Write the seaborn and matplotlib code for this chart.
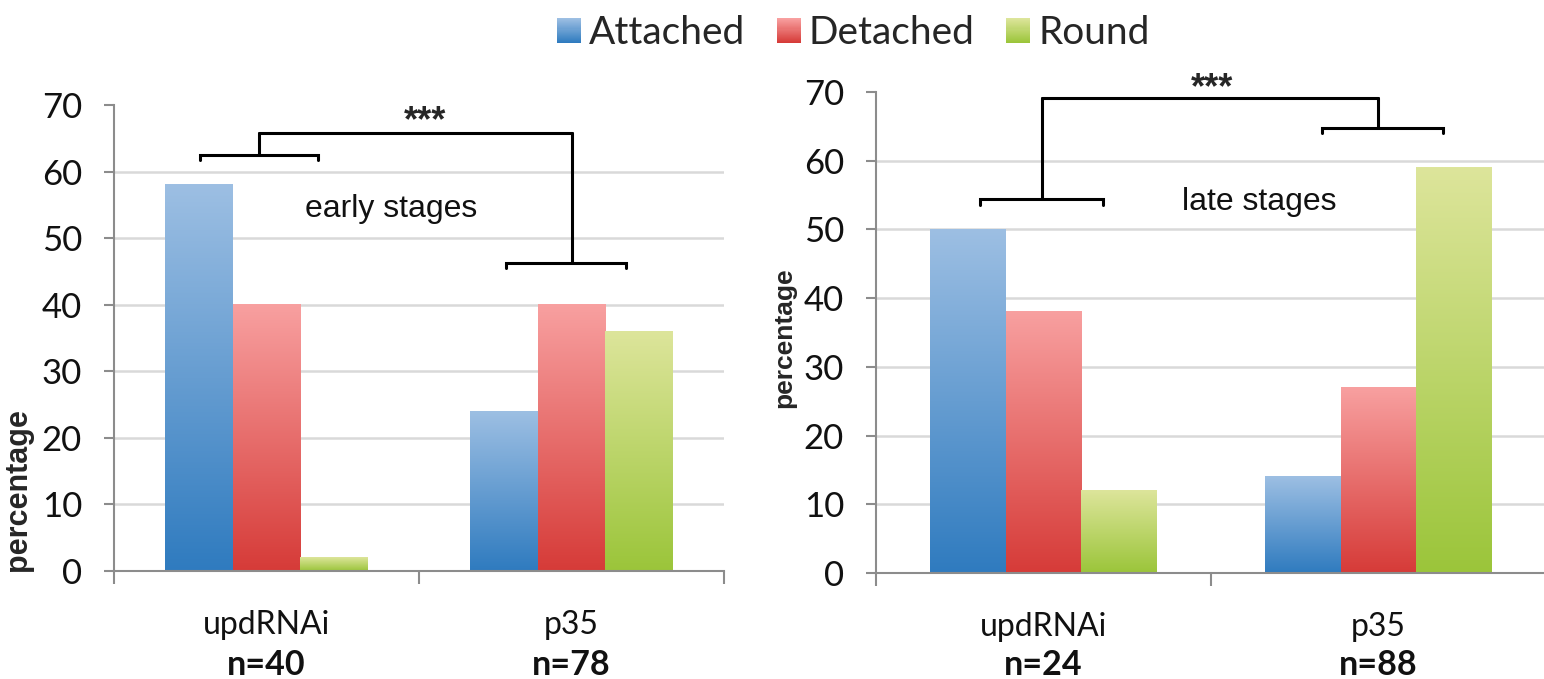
import matplotlib
matplotlib.use("Agg")
import matplotlib.pyplot as plt
import numpy as np
import pandas as pd
import seaborn as sns
from matplotlib.colors import LinearSegmentedColormap
from matplotlib.legend_handler import HandlerBase
from matplotlib.patches import Rectangle

GROUPS = ["updRNAi", "p35"]
SHAPES = ["Attached", "Detached", "Round"]

early_attached = [58, 24]
early_detached = [40, 40]
early_round = [2, 36]
early_n = [40, 78]

late_attached = [50, 14]
late_detached = [38, 27]
late_round = [12, 59]
late_n = [24, 88]

# bottom -> top colour of each gradient-filled bar
GRAD = {"Attached": ("#2f7bbf", "#9dbfe3"),
        "Detached": ("#d63b38", "#f8a0a0"),
        "Round": ("#9bc53a", "#dde59b")}
GREY = "#8c8c8c"
HELV = ["Liberation Sans", "DejaVu Sans"]

sns.set_theme(style="white")
plt.rcParams["font.family"] = ["Lato", "DejaVu Sans"]


def to_long(att, det, rnd):
    rows = [{"group": g, "shape": s, "pct": v}
            for s, vals in zip(SHAPES, (att, det, rnd))
            for g, v in zip(GROUPS, vals)]
    return pd.DataFrame(rows)


def gradient_bars(ax):
    ramp = np.linspace(0, 1, 256).reshape(-1, 1)
    for name, cont in zip(SHAPES, ax.containers):
        cmap = LinearSegmentedColormap.from_list(name, GRAD[name])
        for bar in cont:
            x, w, h = bar.get_x(), bar.get_width(), bar.get_height()
            ax.imshow(ramp, cmap=cmap, origin="lower", aspect="auto",
                      zorder=2, extent=[x, x + w, 0, h])
            bar.set_visible(False)


def bracket(ax, x0, x1, y, tick=0.8):
    ax.plot([x0, x0, x1, x1], [y - tick, y, y, y - tick], color="black",
            lw=2.2, clip_on=False, solid_joinstyle="miter", zorder=5)


def stem(ax, x, y0, y1):
    ax.plot([x, x], [y0, y1], color="black", lw=2.2, clip_on=False, zorder=5)


def panel(ax, df, ns, width, n_y):
    sns.barplot(data=df, x="group", y="pct", hue="shape", order=GROUPS,
                hue_order=SHAPES, width=width, saturation=1, errorbar=None,
                legend=False, ax=ax)
    gradient_bars(ax)
    ax.set_xlim(-0.5, 1.5); ax.set_ylim(0, 70)
    for v in range(10, 70, 10):
        ax.axhline(v, color="#d9d9d9", lw=1.8, zorder=1)
    for s in ("top", "right"):
        ax.spines[s].set_visible(False)
    for s in ("left", "bottom"):
        ax.spines[s].set_color(GREY); ax.spines[s].set_linewidth(1.5)
    ax.set_yticks(range(0, 80, 10))
    ax.tick_params(axis="y", left=True, length=7, width=1.5, color=GREY,
                   pad=16, labelsize=25, labelcolor="#111111")
    ax.set_xticks([0, 1]); ax.set_xticklabels(GROUPS)
    ax.set_xticks([-0.5, 0.5, 1.5], minor=True)
    ax.tick_params(axis="x", which="major", length=0, pad=28, labelsize=23,
                   labelcolor="#111111")
    ax.tick_params(axis="x", which="minor", bottom=True, length=9, width=1.5,
                   color=GREY)
    ax.set_xlabel("")
    for i, n in enumerate(ns):
        ax.text(i, n_y, f"n={n}", transform=ax.get_xaxis_transform(),
                ha="center", va="baseline", fontsize=24.5, fontweight="bold",
                color="#111111")


fig = plt.figure(figsize=(15.44, 6.79), dpi=100)
ax1 = fig.add_axes([0.0738, 0.1591, 0.3951, 0.6863])
ax2 = fig.add_axes([0.5674, 0.1561, 0.4339, 0.7084])

panel(ax1, to_long(early_attached, early_detached, early_round), early_n,
      0.666, -0.223)
panel(ax2, to_long(late_attached, late_detached, late_round), late_n,
      0.678, -0.212)

ax1.set_ylabel("percentage", fontsize=22, fontweight="bold", family=HELV)
ax1.yaxis.set_label_coords(-0.133, 0.174)
ax2.set_ylabel("percentage", fontsize=19, fontweight="bold", family=HELV)
ax2.yaxis.set_label_coords(-0.119, 0.49)

# significance brackets, early stages
bracket(ax1, -0.218, 0.169, 62.5)
stem(ax1, -0.025, 62.5, 65.8)
ax1.plot([-0.025, 1.002], [65.8, 65.8], color="black", lw=2.2,
         clip_on=False, zorder=5)
stem(ax1, 1.002, 46.3, 65.8)
bracket(ax1, 0.785, 1.179, 46.3)
ax1.text(0.52, 66.0, "***", ha="center", va="baseline", fontsize=26,
         fontweight="bold", family=HELV)
ax1.text(0.41, 53.1, "early stages", ha="center", va="baseline",
         fontsize=23, family=HELV, color="#111111")

# significance brackets, late stages
bracket(ax2, -0.19, 0.178, 54.4)
stem(ax2, -0.006, 54.4, 69.2)
ax2.plot([-0.006, 0.999], [69.2, 69.2], color="black", lw=2.2,
         clip_on=False, zorder=5)
stem(ax2, 0.999, 64.8, 69.2)
bracket(ax2, 0.831, 1.193, 64.8)
ax2.text(0.503, 69.1, "***", ha="center", va="baseline", fontsize=26,
         fontweight="bold", family=HELV, clip_on=False)
ax2.text(0.643, 52.8, "late stages", ha="center", va="baseline",
         fontsize=23, family=HELV, color="#111111")


class GradHandler(HandlerBase):
    def __init__(self, lo, hi):
        super().__init__()
        self.cmap = LinearSegmentedColormap.from_list("h", [lo, hi])

    def create_artists(self, legend, orig_handle, xdescent, ydescent,
                       width, height, fontsize, trans):
        n = 24
        return [Rectangle((-xdescent, -ydescent + i * height / n), width,
                          height / n * 1.05, facecolor=self.cmap(i / (n - 1)),
                          edgecolor="none", transform=trans)
                for i in range(n)]


handles = [Rectangle((0, 0), 1, 1) for _ in SHAPES]
fig.legend(handles, SHAPES,
           handler_map={h: GradHandler(*GRAD[s]) for h, s in zip(handles, SHAPES)},
           loc="center", bbox_to_anchor=(0.5525, 0.951), ncol=3, frameon=False,
           fontsize=28, handlelength=0.62, handleheight=0.62,
           handletextpad=0.2, columnspacing=0.82)

fig.savefig("out.png", dpi=100)
